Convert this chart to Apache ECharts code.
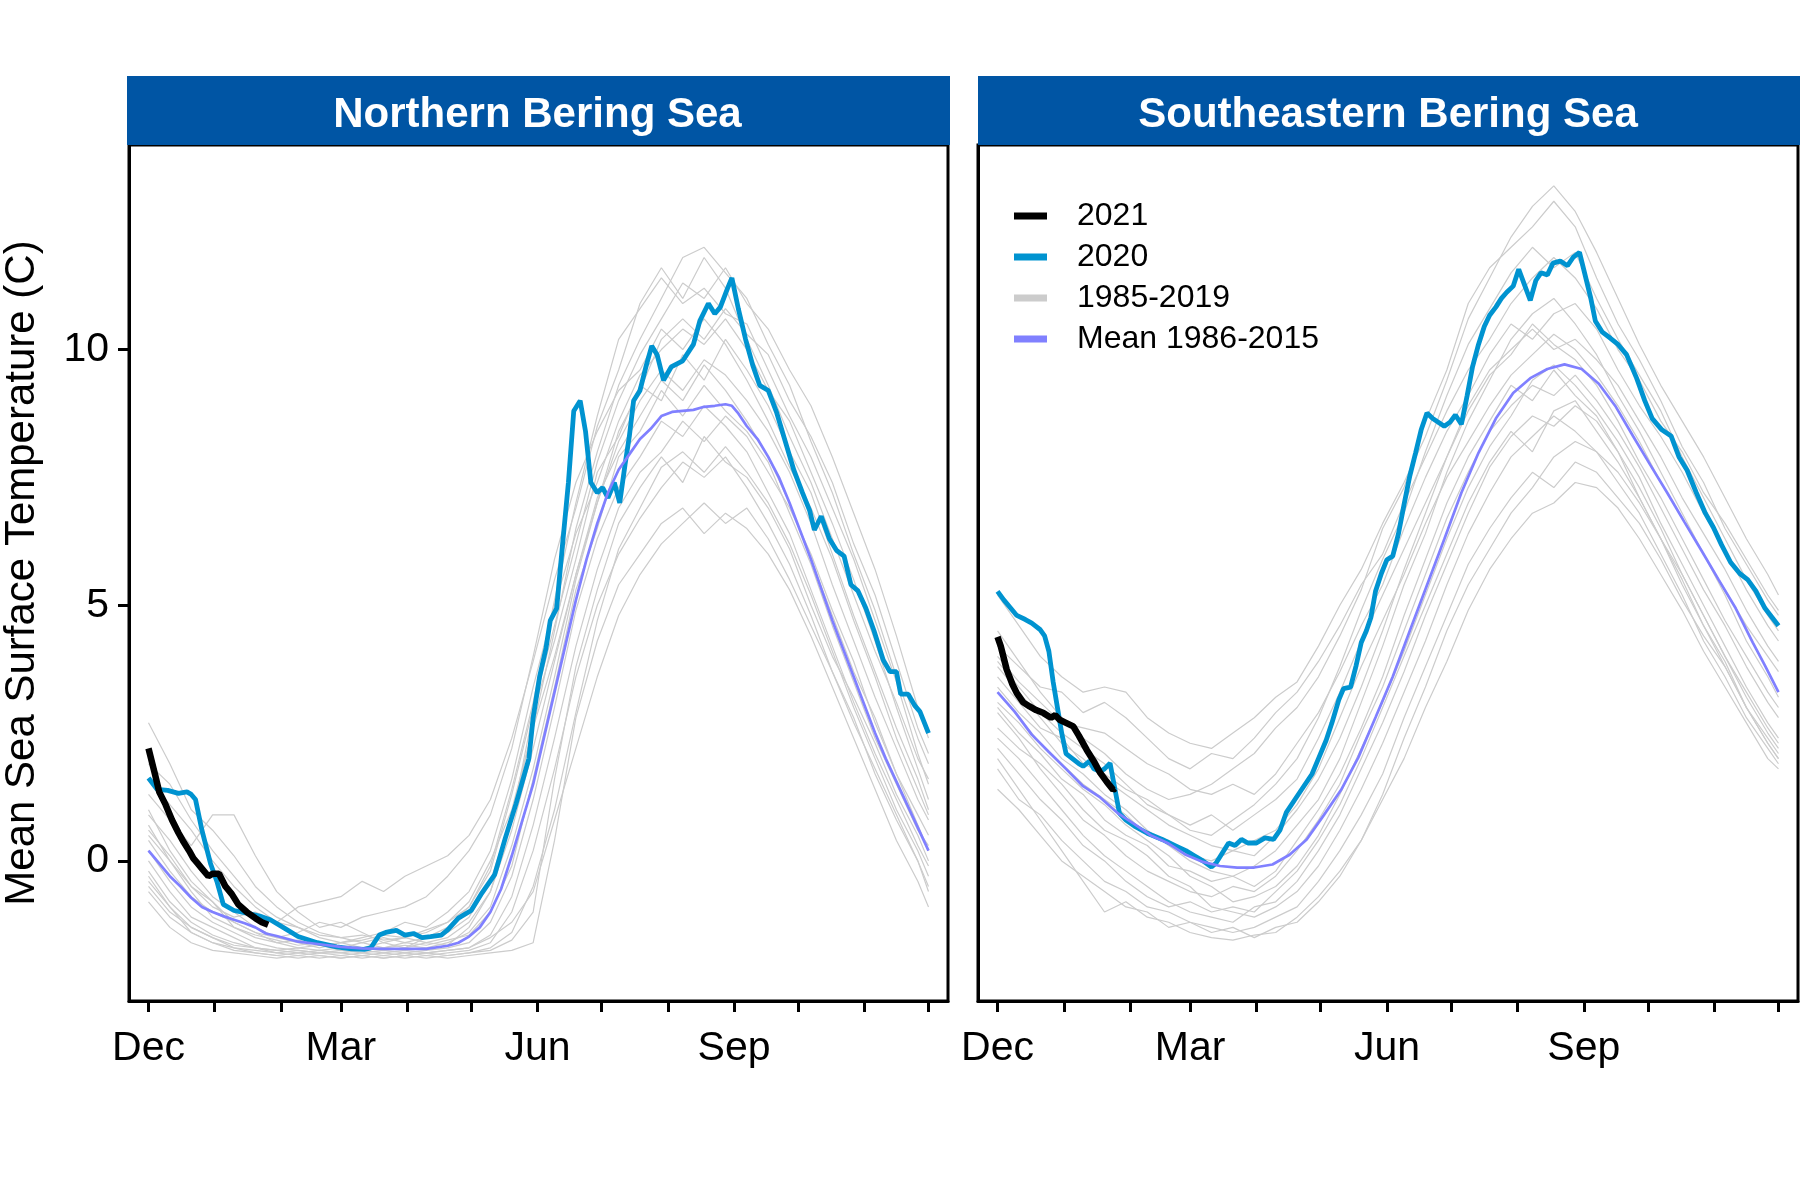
<!DOCTYPE html>
<html>
<head>
<meta charset="utf-8">
<script src="https://cdn.jsdelivr.net/npm/echarts@6/dist/echarts.min.js"></script>
<style>
  html, body { margin: 0; padding: 0; background: #fff; }
  #chart { width: 1800px; height: 1200px; }
</style>
</head>
<body>
<div id="chart"></div>
<script>
// x is days since 1 December; month ticks and the four labelled months
const monthTicks = [0, 31, 62, 90, 121, 151, 182, 212, 243, 274, 304, 335, 365];
const monthLabels = { 0: "Dec", 90: "Mar", 182: "Jun", 274: "Sep" };
const panels = ["Northern Bering Sea", "Southeastern Bering Sea"];

// 1985-2019 years, sampled every 10 days
const grayDays = [0,10,20,30,40,50,60,70,80,90,100,110,120,130,140,150,160,170,180,190,
  200,210,220,230,240,250,260,270,280,290,300,310,320,330,340,350,360,365];

const nbsYears = [
  [2.7,1.9,1.0,0.6,0.1,-0.5,-0.9,-1.2,-1.4,-1.5,-1.6,-1.5,-1.6,-1.5,-1.3,-0.9,-0.2,1.3,3.0,4.6,6.2,7.8,9.0,9.9,10.6,11.3,11.0,11.6,10.9,10.4,9.6,8.9,7.9,6.8,5.7,4.4,3.0,2.4],
  [-0.8,-1.3,-1.6,-1.75,-1.8,-1.85,-1.9,-1.85,-1.9,-1.85,-1.9,-1.85,-1.9,-1.85,-1.9,-1.85,-1.8,-1.75,-1.6,0.4,2.8,4.3,5.4,6.0,6.6,6.9,6.4,6.8,6.5,6.0,5.3,4.4,3.4,2.4,1.4,0.4,-0.4,-0.9],
  [1.3,0.8,0.3,0.9,0.9,0.1,-0.6,-1.0,-1.3,-1.2,-1.4,-1.6,-1.5,-1.6,-1.5,-1.2,-0.6,0.6,2.2,3.9,5.6,7.1,8.0,8.7,9.4,9.0,9.7,9.2,8.6,7.9,7.0,5.9,4.8,3.7,2.8,1.7,0.9,0.5],
  [0.6,0.1,-0.5,-0.9,-1.1,-1.0,-1.2,-0.9,-0.8,-0.7,-0.4,-0.6,-0.3,-0.1,0.1,0.5,1.2,2.4,3.9,5.5,6.9,8.5,9.6,10.9,11.6,11.0,11.8,11.2,10.2,9.3,8.3,7.4,6.3,5.2,4.1,3.1,2.0,1.6],
  [0.2,-0.4,-0.9,-1.2,-1.4,-1.6,-1.7,-1.75,-1.8,-1.75,-1.8,-1.75,-1.8,-1.75,-1.7,-1.6,-1.2,-0.3,1.2,3.0,4.9,6.3,7.3,7.9,8.6,8.3,8.9,8.5,8.0,7.2,6.4,5.3,4.2,3.1,2.1,1.2,0.3,-0.1],
  [-0.3,-0.9,-1.3,-1.5,-1.7,-1.75,-1.8,-1.85,-1.8,-1.85,-1.8,-1.85,-1.8,-1.85,-1.8,-1.75,-1.6,-1.0,0.2,1.8,3.6,5.0,6.0,6.7,7.3,7.8,7.5,7.9,7.3,6.6,5.8,4.8,3.7,2.8,1.7,0.8,0.0,-0.5],
  [0.9,0.4,-0.2,-0.7,-1.0,-1.3,-1.5,-1.6,-1.7,-1.6,-1.7,-1.6,-1.7,-1.5,-1.4,-1.1,-0.4,0.9,2.6,4.5,6.5,8.0,9.3,10.2,11.0,11.8,12.0,11.5,11.0,10.1,9.3,8.2,7.2,6.0,4.9,3.6,2.4,1.9],
  [-0.6,-1.1,-1.4,-1.6,-1.7,-1.8,-1.85,-1.8,-1.85,-1.9,-1.85,-1.9,-1.85,-1.8,-1.85,-1.8,-1.7,-1.4,-0.5,1.0,2.9,4.7,6.1,6.9,7.7,8.0,7.6,8.1,7.6,7.0,6.2,5.2,4.1,3.0,2.0,1.0,0.2,-0.3],
  [1.6,1.1,0.6,0.0,-0.5,-0.9,-1.2,-1.3,-1.5,-1.6,-1.5,-1.4,-1.2,-1.3,-1.0,-0.6,0.2,1.6,3.4,5.0,6.4,7.4,8.6,9.5,10.0,10.4,10.1,10.6,10.0,9.2,8.6,7.6,6.6,5.5,4.3,3.0,1.8,1.2],
  [0.0,-0.6,-1.1,-1.3,-1.5,-1.7,-1.75,-1.7,-1.75,-1.7,-1.75,-1.7,-1.65,-1.7,-1.6,-1.4,-0.9,0.3,1.8,3.6,5.5,7.0,8.2,9.0,9.6,9.2,9.8,9.5,9.0,8.4,7.6,6.6,5.4,4.3,3.2,2.2,1.2,0.8],
  [0.4,-0.2,-0.7,-1.0,-1.2,-1.4,-1.5,-1.4,-1.2,-1.3,-1.1,-1.0,-0.9,-0.7,-0.3,0.2,0.9,2.2,4.0,5.9,7.4,8.4,9.2,9.6,10.4,10.0,10.6,10.1,9.4,8.6,7.7,6.9,5.9,4.7,3.6,2.4,1.4,0.9],
  [-0.5,-1.0,-1.3,-1.5,-1.65,-1.7,-1.75,-1.8,-1.75,-1.8,-1.75,-1.8,-1.75,-1.8,-1.75,-1.7,-1.45,-0.7,0.7,2.4,4.2,5.7,6.9,7.6,8.0,8.6,8.2,8.7,8.3,7.6,6.9,6.0,4.9,3.9,2.7,1.7,0.7,0.2],
  [1.0,0.2,-0.4,-0.8,-1.3,-1.5,-1.6,-1.7,-1.65,-1.75,-1.7,-1.75,-1.7,-1.6,-1.65,-1.3,-0.6,0.8,2.9,4.3,5.9,7.6,8.3,9.3,9.0,9.9,9.4,10.2,9.6,8.9,8.0,7.2,6.0,4.8,3.7,2.6,1.6,1.0],
  [-0.2,-0.8,-1.2,-1.45,-1.6,-1.7,-1.8,-1.75,-1.8,-1.8,-1.85,-1.8,-1.85,-1.8,-1.75,-1.7,-1.5,-1.2,-0.6,0.8,2.2,3.6,4.8,5.6,6.2,6.6,7.0,6.6,6.9,6.3,5.5,4.6,3.7,2.7,1.8,0.9,0.0,-0.6],
  [0.5,0.0,-0.6,-1.1,-1.3,-1.45,-1.55,-1.65,-1.6,-1.7,-1.6,-1.7,-1.6,-1.65,-1.55,-1.45,-1.0,-0.1,1.6,3.4,5.3,6.5,7.9,8.4,9.2,8.7,9.3,8.8,8.4,7.8,6.8,5.8,4.6,3.5,2.4,1.5,0.6,0.3],
  [1.9,1.5,0.8,0.2,-0.3,-0.8,-1.1,-1.3,-1.45,-1.5,-1.45,-1.55,-1.5,-1.4,-1.2,-0.8,0.0,1.0,2.6,4.0,5.6,7.0,8.4,9.2,10.2,10.6,10.2,10.8,10.3,9.9,9.0,8.3,7.4,6.2,5.2,3.9,2.6,2.1],
  [-0.4,-0.9,-1.4,-1.6,-1.75,-1.8,-1.85,-1.9,-1.85,-1.9,-1.85,-1.9,-1.85,-1.9,-1.85,-1.8,-1.75,-1.55,-1.0,1.6,3.8,5.3,6.6,7.3,7.9,7.4,8.3,7.8,7.5,6.9,6.1,5.0,4.0,3.2,2.3,1.3,0.5,0.0],
  [0.7,0.0,-0.5,-0.8,-1.2,-1.4,-1.6,-1.55,-1.65,-1.6,-1.55,-1.45,-1.5,-1.35,-1.2,-0.9,-0.1,1.4,3.1,5.1,7.0,8.7,10.2,10.8,11.4,10.9,11.2,10.7,10.5,9.6,8.7,7.9,6.9,5.9,4.7,3.5,2.1,1.5]
];

const sebsYears = [
  [5.2,4.6,4.0,3.6,3.3,3.4,3.3,2.8,2.5,2.3,2.2,2.5,2.8,3.2,3.5,4.2,5.0,5.7,6.6,7.4,8.3,9.4,10.6,11.4,12.2,12.8,13.2,12.7,11.9,11.0,10.1,9.3,8.6,7.9,7.1,6.3,5.6,5.2],
  [2.0,1.4,0.8,0.2,-0.4,-1.0,-0.8,-1.1,-1.2,-1.4,-1.5,-1.55,-1.45,-1.4,-1.1,-0.7,-0.2,0.4,1.2,2.0,3.0,3.9,4.9,5.7,6.3,6.8,7.0,7.4,7.3,6.9,6.3,5.6,4.9,4.1,3.4,2.7,2.0,1.8],
  [3.8,3.3,2.8,2.3,2.0,1.6,1.3,1.0,0.7,0.5,0.3,0.2,0.4,0.6,1.1,1.8,2.8,3.8,4.7,5.6,6.6,7.5,8.2,8.9,9.5,9.9,10.3,10.0,9.5,8.9,8.2,7.4,6.7,6.0,5.3,4.6,4.0,3.7],
  [2.9,2.4,1.8,1.3,0.8,0.5,0.1,-0.2,-0.4,-0.6,-0.7,-0.5,-0.6,-0.3,0.2,0.8,1.5,2.5,3.4,4.5,5.6,6.7,7.6,8.4,8.9,9.3,9.1,9.5,9.0,8.4,7.7,6.9,6.1,5.3,4.6,3.8,3.1,2.8],
  [3.4,2.9,2.5,2.0,1.7,1.3,1.0,0.6,0.3,0.0,-0.2,-0.3,-0.1,0.2,0.7,1.2,2.0,3.1,4.2,5.4,6.4,7.6,8.6,9.4,10.2,10.7,11.0,10.5,9.9,9.1,8.4,7.6,6.8,6.0,5.2,4.3,3.6,3.2],
  [1.4,1.0,0.5,0.0,-0.3,-0.6,-0.9,-1.0,-1.3,-1.2,-1.4,-1.3,-1.5,-1.3,-1.2,-0.8,-0.3,0.4,1.3,2.4,3.4,4.5,5.4,6.1,6.8,7.3,7.9,8.2,8.0,7.4,6.8,6.0,5.2,4.3,3.6,2.8,2.2,1.9],
  [4.5,3.9,3.3,2.8,2.4,2.1,1.7,1.4,1.2,1.3,1.5,1.8,2.1,2.6,3.0,3.6,4.4,5.3,6.5,7.3,8.6,9.6,10.9,11.6,12.0,12.4,12.9,12.4,11.4,10.5,9.8,9.0,8.1,7.4,6.5,5.8,5.1,4.8],
  [2.4,2.0,1.5,1.0,0.5,0.1,-0.2,-0.5,-0.8,-1.0,-1.1,-1.2,-0.9,-0.8,-0.4,0.2,0.9,1.8,2.7,3.7,4.8,5.8,6.8,7.7,8.3,8.7,8.5,8.9,8.6,8.0,7.3,6.5,5.6,4.8,4.0,3.2,2.5,2.2],
  [3.1,2.7,2.2,1.8,1.4,1.1,0.7,0.4,0.1,-0.3,-0.5,-0.8,-0.7,-0.5,-0.1,0.5,1.3,2.2,3.1,4.1,5.2,6.3,7.3,8.1,8.7,9.4,9.7,9.3,8.8,8.2,7.5,6.6,5.8,5.0,4.2,3.4,2.7,2.4],
  [4.0,3.5,3.1,2.7,2.6,2.5,2.2,1.9,1.7,1.4,1.3,1.5,1.3,1.7,2.3,2.9,3.7,4.6,5.4,6.5,7.5,8.4,9.1,9.9,10.5,10.2,10.7,10.9,10.4,9.6,8.9,8.3,7.6,6.8,6.1,5.3,4.6,4.3],
  [2.6,2.2,1.9,1.5,1.0,0.6,0.4,0.1,-0.3,-0.5,-0.9,-1.0,-1.1,-0.9,-0.6,-0.1,0.6,1.4,2.3,3.3,4.3,5.4,6.4,7.2,7.9,8.3,8.7,8.4,8.0,7.6,7.0,6.3,5.6,4.8,4.0,3.3,2.6,2.3],
  [3.6,3.1,2.6,2.4,1.9,1.7,1.4,1.2,0.9,0.7,0.9,0.6,0.9,1.2,1.6,2.4,3.3,4.3,5.2,6.1,7.0,7.9,8.9,9.6,10.0,10.4,10.0,10.2,9.8,9.3,8.6,7.9,7.1,6.4,5.7,4.9,4.2,3.9],
  [3.0,2.5,2.1,1.6,1.3,0.8,0.5,0.3,-0.1,-0.2,-0.4,-0.3,-0.5,-0.2,0.4,1.0,1.7,2.6,3.6,4.8,5.9,7.0,7.9,8.6,9.3,9.0,9.6,9.1,8.7,8.0,7.1,6.3,5.5,4.6,3.9,3.0,2.4,2.1],
  [4.2,3.8,3.4,3.3,2.9,3.1,2.8,2.4,2.0,1.8,2.1,2.0,2.4,2.9,3.3,3.9,4.6,5.4,6.0,7.0,7.9,8.8,9.6,10.2,10.9,11.4,11.8,11.4,10.8,10.0,9.4,8.6,8.0,7.2,6.6,5.9,5.2,4.9],
  [1.8,1.2,0.9,0.4,0.0,-0.4,-0.6,-0.9,-1.0,-1.2,-1.3,-1.4,-1.3,-1.1,-0.9,-0.4,0.2,0.9,1.7,2.8,3.8,4.8,5.8,6.5,7.1,7.6,7.3,7.8,7.6,7.1,6.6,5.9,5.1,4.4,3.8,3.0,2.3,2.0],
  [3.3,2.8,2.3,1.9,1.5,1.2,0.9,0.5,0.4,0.1,0.0,0.2,0.1,0.5,1.0,1.6,2.4,3.4,4.5,5.7,6.8,7.9,8.8,9.5,9.9,10.5,10.1,9.8,9.3,8.6,7.8,7.1,6.3,5.5,4.7,4.0,3.3,3.0],
  [2.2,1.7,1.2,0.8,0.3,0.0,-0.4,-0.7,-0.9,-0.8,-1.0,-0.9,-1.0,-0.6,-0.2,0.4,1.1,2.0,3.0,4.0,5.0,6.0,7.0,7.8,8.4,8.0,8.8,9.0,8.4,7.8,7.1,6.3,5.4,4.6,3.8,3.0,2.3,2.0],
  [3.9,3.4,2.9,2.5,2.2,1.9,1.5,1.1,0.9,0.6,0.5,0.8,1.1,1.5,2.0,2.8,3.8,4.9,5.9,6.8,8.0,9.1,10.1,10.8,11.5,12.0,11.6,11.9,11.0,10.2,9.5,8.8,7.9,7.1,6.3,5.5,4.8,4.5]
];

// [day, degC]
const nbs2020 = [[0,1.62],[4,1.4],[9,1.38],[14,1.32],[18,1.35],[20,1.3],[22,1.2],[25,0.6],[29,-0.05],[32,-0.4],[35,-0.85],[40,-0.97],[46,-1.02],[52,-1.08],[57,-1.15],[63,-1.3],[70,-1.48],[79,-1.6],[88,-1.68],[95,-1.72],[101,-1.73],[104,-1.7],[108,-1.45],[111,-1.4],[116,-1.36],[120,-1.45],[124,-1.42],[128,-1.5],[132,-1.48],[137,-1.45],[140,-1.35],[145,-1.12],[151,-0.97],[156,-0.63],[162,-0.27],[167,0.45],[172,1.12],[178,2.0],[180,2.8],[183,3.6],[186,4.16],[188,4.7],[191,4.94],[194,6.3],[196.5,7.4],[199,8.8],[202,9.0],[204.5,8.4],[207,7.4],[210,7.2],[212.5,7.3],[215,7.1],[218,7.4],[220.5,7.0],[223,7.75],[225,8.3],[227,9.0],[230,9.2],[233,9.7],[235.5,10.07],[238,9.9],[241,9.4],[244.6,9.66],[250,9.78],[255,10.1],[258,10.56],[262,10.9],[265,10.7],[267.6,10.83],[271,11.2],[273,11.4],[276,10.8],[279.4,10.2],[282.7,9.7],[286,9.3],[290,9.2],[294,8.76],[298,8.2],[302,7.64],[306,7.2],[309.4,6.85],[311.6,6.47],[314.8,6.74],[318.6,6.3],[322,6.07],[325.5,5.96],[328.7,5.4],[332,5.28],[335.7,4.94],[339.5,4.5],[343.8,3.93],[347,3.7],[350,3.7],[352,3.26],[355.5,3.26],[358.7,3.03],[361,2.92],[365,2.5]];
const nbs2021 = [[0,2.2],[3,1.7],[5,1.35],[8,1.1],[11,0.8],[14,0.55],[16,0.4],[19,0.2],[21,0.05],[23,-0.05],[25,-0.15],[28,-0.3],[30,-0.25],[33,-0.25],[36,-0.5],[39,-0.65],[42,-0.85],[46,-1.0],[50,-1.12],[53,-1.2],[56,-1.25]];
const nbsMean = [[0,0.2],[5,-0.05],[10,-0.3],[15,-0.5],[20,-0.72],[25,-0.9],[30,-1.0],[35,-1.08],[40,-1.15],[45,-1.22],[50,-1.3],[55,-1.42],[60,-1.47],[70,-1.58],[80,-1.63],[90,-1.68],[100,-1.71],[110,-1.72],[120,-1.72],[130,-1.72],[140,-1.66],[145,-1.6],[150,-1.48],[155,-1.3],[160,-1.0],[165,-0.55],[170,0.1],[175,0.8],[180,1.5],[185,2.4],[190,3.3],[195,4.2],[200,5.1],[205,5.9],[210,6.6],[215,7.2],[220,7.65],[225,7.95],[230,8.25],[235,8.45],[240,8.7],[245,8.78],[250,8.8],[255,8.82],[260,8.88],[265,8.9],[270,8.93],[273,8.9],[276,8.75],[280,8.5],[285,8.25],[290,7.9],[295,7.5],[300,7.0],[305,6.45],[310,5.9],[315,5.3],[320,4.7],[325,4.15],[330,3.6],[335,3.05],[340,2.5],[345,2.0],[350,1.55],[355,1.1],[360,0.65],[365,0.2]];

const sebs2020 = [[0,5.27],[3,5.1],[6,4.95],[9,4.8],[13,4.72],[16,4.65],[20,4.52],[22,4.4],[24,4.1],[26,3.5],[28,3.0],[30,2.5],[32,2.1],[35,2.0],[38,1.9],[40,1.85],[43,1.95],[45,1.8],[48,1.75],[50,1.8],[52.6,1.91],[54,1.6],[57,0.93],[60,0.8],[64,0.68],[70,0.54],[77,0.42],[83,0.3],[88,0.2],[92,0.1],[96,0.0],[100,-0.12],[102,-0.05],[105,0.15],[108,0.35],[111,0.3],[114,0.42],[117,0.35],[121,0.35],[125,0.45],[129,0.42],[132,0.6],[135,0.95],[139,1.2],[143,1.45],[147,1.7],[150,2.0],[153.6,2.36],[156.3,2.7],[159.5,3.15],[161.7,3.37],[165,3.4],[167.6,3.82],[170,4.27],[172.4,4.5],[174.5,4.76],[176.7,5.28],[179.4,5.62],[182,5.89],[184.7,5.96],[187.4,6.4],[190,6.97],[192.7,7.53],[195.4,7.98],[198,8.43],[200.7,8.76],[203.4,8.65],[206,8.58],[208.8,8.5],[211.5,8.58],[214,8.72],[216.8,8.54],[219.5,9.1],[222,9.66],[224.8,10.1],[227.5,10.45],[230,10.67],[232.9,10.83],[235.5,11.0],[238,11.12],[241,11.24],[243.6,11.57],[246,11.3],[249,10.96],[251.6,11.35],[254,11.5],[257,11.46],[259.6,11.69],[263,11.73],[266.4,11.64],[269,11.8],[272,11.9],[274.6,11.46],[277.3,11.0],[279.4,10.56],[282.7,10.34],[286.5,10.22],[290,10.1],[294,9.9],[298.7,9.44],[302.5,9.0],[306,8.65],[310.5,8.43],[314.8,8.31],[318.5,7.9],[322.3,7.64],[326.6,7.2],[330.8,6.8],[334.6,6.52],[338.4,6.18],[342.6,5.84],[346.9,5.62],[350.6,5.5],[354.4,5.28],[358.7,4.94],[365,4.6]];
const sebs2021 = [[0,4.38],[1.5,4.2],[4.3,3.74],[7,3.45],[9,3.28],[12,3.1],[15,3.02],[18,2.95],[21.5,2.89],[25,2.8],[27,2.85],[29,2.76],[32,2.7],[35.4,2.63],[38,2.45],[41.7,2.17],[45,1.95],[48,1.72],[51,1.55],[54,1.39],[55,1.42]];
const sebsMean = [[0,3.3],[8,2.92],[16,2.47],[24,2.13],[32,1.8],[40,1.46],[48,1.24],[56,0.94],[64,0.72],[72,0.49],[80,0.34],[88,0.12],[96,-0.02],[104,-0.1],[112,-0.13],[120,-0.13],[128.5,-0.07],[136.5,0.12],[144.5,0.42],[152.6,0.9],[160.6,1.39],[168.6,2.02],[176.7,2.81],[184.7,3.6],[192.7,4.5],[200.7,5.39],[208.8,6.29],[216.8,7.2],[224.8,7.98],[232.9,8.65],[241,9.15],[249,9.44],[257,9.62],[265,9.71],[273,9.62],[281,9.33],[289,8.88],[297,8.31],[305,7.75],[313,7.2],[321,6.63],[329,6.07],[337,5.5],[345,4.94],[353,4.27],[358.7,3.82],[365,3.3]];

const FONT = '"Liberation Sans", Arial, sans-serif';
const C2021 = "#000000", C2020 = "#0093d0", CGRAY = "#cccccc", CMEAN = "#8080ff";

const grids = [
  { left: 127, top: 145, width: 821, height: 856 },
  { left: 978, top: 145, width: 820, height: 856 }
];

function lineSeries(name, idx, data, color, width, z) {
  return {
    name: name, type: "line", xAxisIndex: idx, yAxisIndex: idx,
    data: data, color: color, showSymbol: false, symbol: "none",
    lineStyle: { color: color, width: width }, z: z,
    silent: true, animation: false, clip: true
  };
}

const series = [];
[nbsYears, sebsYears].forEach((years, idx) => {
  years.forEach(vals => {
    series.push(lineSeries("1985-2019", idx, grayDays.map((d, i) => [d, vals[i]]), CGRAY, 1.2, 1));
  });
});
series.push(lineSeries("2020", 0, nbs2020, C2020, 4.8, 3));
series.push(lineSeries("2020", 1, sebs2020, C2020, 4.8, 3));
series.push(lineSeries("2021", 0, nbs2021, C2021, 6.5, 4));
series.push(lineSeries("2021", 1, sebs2021, C2021, 6.5, 4));
series.push(lineSeries("Mean 1986-2015", 0, nbsMean, CMEAN, 2.7, 5));
series.push(lineSeries("Mean 1986-2015", 1, sebsMean, CMEAN, 2.7, 5));

const xAxes = grids.map((g, i) => ({
  type: "value", gridIndex: i, min: -9.125, max: 374.125,
  splitLine: { show: false },
  axisLine: { show: true, onZero: false, lineStyle: { color: "#000", width: 3 } },
  axisTick: { show: true, length: 11, lineStyle: { color: "#000", width: 3 }, customValues: monthTicks },
  axisLabel: {
    show: true, customValues: [0, 90, 182, 274], margin: 27,
    fontSize: 41, color: "#000", fontFamily: FONT,
    formatter: v => monthLabels[v] || ""
  }
}));

const yAxes = grids.map((g, i) => ({
  type: "value", gridIndex: i, min: -2.74, max: 14.0,
  splitLine: { show: false },
  axisLine: { show: true, onZero: false, lineStyle: { color: "#000", width: 3 } },
  axisTick: { show: i === 0, length: 11, lineStyle: { color: "#000", width: 3 }, customValues: [0, 5, 10] },
  axisLabel: {
    show: i === 0, customValues: [0, 5, 10], margin: 20,
    fontSize: 41, color: "#000", fontFamily: FONT
  },
  name: i === 0 ? "Mean Sea Surface Temperature (C)" : "",
  nameLocation: "middle", nameGap: 86,
  nameTextStyle: { fontSize: 42, color: "#000", fontFamily: FONT }
}));

const graphic = [];
grids.forEach((g, i) => {
  graphic.push({
    type: "rect", shape: { x: g.left, y: 76, width: g.width + 2, height: 69 },
    style: { fill: "#0055a4" }, z: 10
  });
  graphic.push({
    type: "text", x: g.left + g.width / 2, y: 115, z: 11,
    style: { text: panels[i], fill: "#fff", font: "bold 42px " + FONT, align: "center", verticalAlign: "middle" }
  });
});

const chart = echarts.init(document.getElementById("chart"));
chart.setOption({
  backgroundColor: "#fff",
  animation: false,
  grid: grids.map(g => Object.assign({ show: true, borderColor: "#000", borderWidth: 3, backgroundColor: "transparent" }, g)),
  xAxis: xAxes,
  yAxis: yAxes,
  legend: {
    data: ["2021", "2020", "1985-2019", "Mean 1986-2015"],
    orient: "vertical", left: 1009, top: 195,
    icon: "rect", itemWidth: 33, itemHeight: 7, itemGap: 9,
    selectedMode: false,
    textStyle: { fontSize: 32, lineHeight: 32, color: "#000", fontFamily: FONT, padding: [0, 0, 0, 25] }
  },
  graphic: graphic,
  series: series
});
</script>
</body>
</html>
